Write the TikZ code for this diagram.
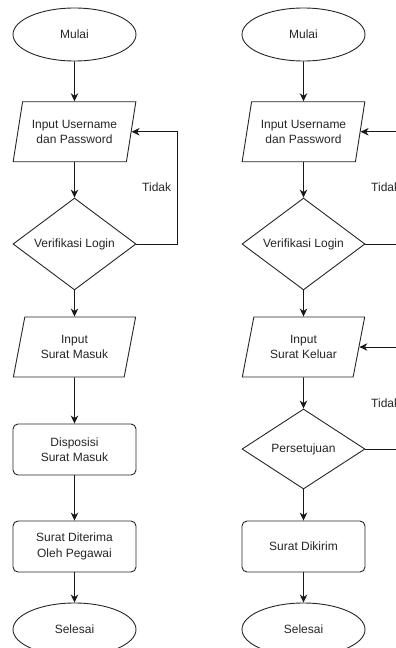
\documentclass[tikz,border=0pt]{standalone}
\usepackage{fontspec}
\setmainfont{Liberation Sans}
\usetikzlibrary{shapes.geometric,arrows.meta}

\begin{document}
\begin{tikzpicture}[x=1pt,y=-1pt,
  base/.style={draw=black!85, line width=0.9pt, inner sep=0pt, align=center,
    text=black!85, font=\fontsize{12}{15.5}\selectfont},
  terminal/.style={base, ellipse, minimum width=123pt, minimum height=53pt},
  io/.style={base, trapezium, trapezium left angle=72, trapezium right angle=108,
    trapezium stretches=true, minimum width=123pt, minimum height=60pt},
  decision/.style={base, diamond, minimum width=123pt, minimum height=80pt},
  process/.style={base, rectangle, rounded corners=5pt, minimum width=123pt, minimum height=51pt},
  flow/.style={draw=black!90, line width=0.9pt, -{Stealth[length=8pt,width=7.5pt,inset=2.5pt]}},
  lbl/.style={font=\fontsize{12}{14}\selectfont, text=black!85, anchor=west, inner sep=0pt}
]
\useasboundingbox (0,0) rectangle (396,648);
\clip (0,0) rectangle (396,648);
\fill[white] (0,0) rectangle (396,648);

% incoming mail
\node[terminal] (mulaiL)   at (74.5,34.5)  {Mulai};
\node[io]       (in1L)     at (74.5,131.75) {Input Username\\dan Password};
\node[decision] (verL)     at (74.5,244)   {Verifikasi Login};
\node[io]       (in2L)     at (74.5,347)   {Input\\Surat Masuk};
\node[process]  (dispL)    at (74.5,449.5) {Disposisi\\Surat Masuk};
\node[process]  (terimaL)  at (74.5,546.5) {Surat Diterima\\Oleh Pegawai};
\node[terminal] (selesaiL) at (74.5,629.5) {Selesai};
\node[lbl]      (tidakL)   at (142,187)    {Tidak};

\draw[flow] (mulaiL) -- (in1L);
\draw[flow] (in1L) -- (verL);
\draw[flow] (verL) -- (in2L);
\draw[flow] (in2L) -- (dispL);
\draw[flow] (dispL) -- (terimaL);
\draw[flow] (terimaL) -- (selesaiL);
\draw[flow] (verL.east) -- ++(41,0) |- (in1L.east);

% outgoing mail
\node[terminal] (mulaiR)   at (303.5,34.5)  {Mulai};
\node[io]       (in1R)     at (303.5,131.75) {Input Username\\dan Password};
\node[decision] (verR)     at (303.5,244)   {Verifikasi Login};
\node[io]       (in2R)     at (303.5,347)   {Input\\Surat Keluar};
\node[decision] (setujuR)  at (303.5,449)   {Persetujuan};
\node[process]  (kirimR)   at (303.5,546.5) {Surat Dikirim};
\node[terminal] (selesaiR) at (303.5,629.5) {Selesai};
\node[lbl]      (tidakR1)  at (371,187)     {Tidak};
\node[lbl]      (tidakR2)  at (371,403)     {Tidak};

\draw[flow] (mulaiR) -- (in1R);
\draw[flow] (in1R) -- (verR);
\draw[flow] (verR) -- (in2R);
\draw[flow] (in2R) -- (setujuR);
\draw[flow] (setujuR) -- (kirimR);
\draw[flow] (kirimR) -- (selesaiR);
\draw[flow] (verR.east) -- ++(41,0) |- (in1R.east);
\draw[flow] (setujuR.east) -- ++(41,0) |- (in2R.east);
\end{tikzpicture}
\end{document}
